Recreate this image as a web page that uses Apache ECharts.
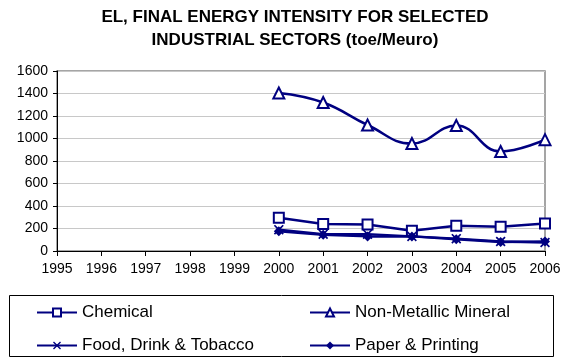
<!DOCTYPE html>
<html><head><meta charset="utf-8">
<script src="https://cdn.jsdelivr.net/npm/echarts@6/dist/echarts.min.js"></script>
<style>html,body{margin:0;padding:0;background:#fff}#c{width:568px;height:362px}</style>
</head><body><div id="c"></div>
<script>
const years = ['1995','1996','1997','1998','1999','2000','2001','2002','2003','2004','2005','2006'];
const chemical = [null,null,null,null,null,295,240,235,180,225,215,245];
const nonMetallic = [null,null,null,null,null,1405,1320,1120,955,1115,885,990];
const foodDrink = [null,null,null,null,null,190,150,150,130,110,85,75];
const paperPrinting = [null,null,null,null,null,175,145,130,130,105,80,85];
const yTicks = [0,200,400,600,800,1000,1200,1400,1600];

const navy = '#000080';
const xPath = 'path://M0,1.2L1.2,0L5,3.8L8.8,0L10,1.2L6.2,5L10,8.8L8.8,10L5,6.2L1.2,10L0,8.8L3.8,5Z';
const font = 'Liberation Sans, Arial, sans-serif';

const chart = echarts.init(document.getElementById('c'), null, {renderer:'canvas'});
function legendItem(name, left, top){
  return {data:[name], left:left, top:top, orient:'horizontal', itemWidth:40, itemHeight:10, itemGap:6,
    textStyle:{fontFamily:font, fontSize:17, color:'#000'}, selectedMode:false};
}
chart.setOption({
  animation:false,
  title:{text:'EL, FINAL ENERGY INTENSITY FOR SELECTED\nINDUSTRIAL SECTORS (toe/Meuro)', left:290, textAlign:'center', top:1,
    textStyle:{fontFamily:font, fontSize:17, fontWeight:'bold', color:'#000', lineHeight:23}},
  grid:{left:57, right:23, top:71, bottom:111, show:true, borderColor:'#888', borderWidth:1.5, backgroundColor:'transparent'},
  graphic:[{type:'rect', shape:{x:9.5, y:295.5, width:544, height:61}, style:{fill:'none', stroke:'#000', lineWidth:1}}],
  legend:[
    legendItem('Chemical', 31, 299),
    legendItem('Non-Metallic Mineral', 304, 299),
    legendItem('Food, Drink & Tobacco', 31, 332),
    legendItem('Paper & Printing', 304, 332)
  ],
  xAxis:{type:'category', data:years, boundaryGap:false,
    axisLine:{lineStyle:{color:'#000', width:1}}, axisTick:{show:true, alignWithLabel:true, length:5, lineStyle:{color:'#000'}},
    axisLabel:{fontFamily:font, fontSize:14, color:'#000', margin:11, interval:0}, splitLine:{show:false}},
  yAxis:{type:'value', min:0, max:1600, interval:200,
    axisLine:{show:true, lineStyle:{color:'#000', width:1}}, axisTick:{show:true, length:4, lineStyle:{color:'#000'}},
    axisLabel:{fontFamily:font, fontSize:14, color:'#000', margin:9, formatter:function(v){return String(v);}},
    splitLine:{show:true, lineStyle:{color:'#c8c8c8', width:1}}},
  series:[
    {name:'Chemical', type:'line', data:chemical, symbol:'rect', symbolSize:10, connectNulls:false,
      lineStyle:{color:navy, width:2.5}, itemStyle:{color:'#fff', borderColor:navy, borderWidth:2}, z:3},
    {name:'Non-Metallic Mineral', type:'line', data:nonMetallic, symbol:'triangle', symbolSize:11, smooth:0.45,
      lineStyle:{color:navy, width:2.5}, itemStyle:{color:'#fff', borderColor:navy, borderWidth:2}, z:3},
    {name:'Food, Drink & Tobacco', type:'line', data:foodDrink, symbol:xPath, symbolSize:10,
      lineStyle:{color:navy, width:2.5}, itemStyle:{color:navy, borderColor:navy, borderWidth:0}, z:4},
    {name:'Paper & Printing', type:'line', data:paperPrinting, symbol:'diamond', symbolSize:10,
      lineStyle:{color:navy, width:2.5}, itemStyle:{color:navy, borderColor:navy, borderWidth:0}, z:4}
  ]
});
</script></body></html>
